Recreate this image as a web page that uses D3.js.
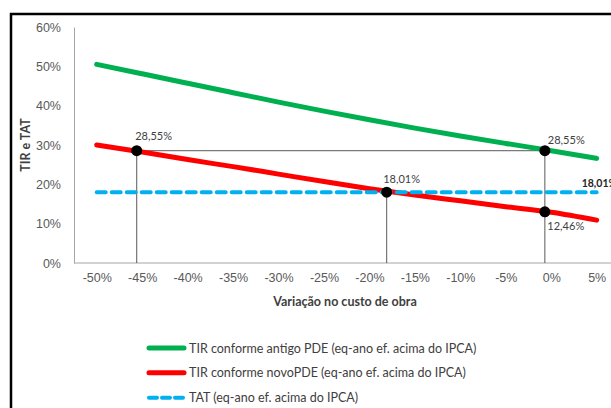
<!DOCTYPE html>
<html>
<head>
<meta charset="utf-8">
<script src="https://cdn.jsdelivr.net/npm/d3@7"></script>
<style>
  body { margin: 0; background: #fff; overflow: hidden; }
  svg { display: block; font-family: Lato, "Open Sans", sans-serif; }
</style>
</head>
<body>
<div id="chart"></div>
<script>
// categories on the x axis (variação no custo de obra, %)
var categories = [-50, -45, -40, -35, -30, -25, -20, -15, -10, -5, 0, 5];
// TIR conforme antigo PDE (%)
var tirAntigo = [50.5, 48.1, 45.7, 43.3, 40.9, 38.6, 36.4, 34.3, 32.3, 30.4, 28.55, 26.6];
// TIR conforme novo PDE (%)
var tirNovo = [30.0, 28.2, 26.3, 24.5, 22.6, 20.7, 18.9, 17.3, 15.8, 14.3, 12.9, 10.9];
// TAT (%)
var tat = [18.01, 18.01, 18.01, 18.01, 18.01, 18.01, 18.01, 18.01, 18.01, 18.01, 18.01, 18.01];
// marked points
var markX = [-45.6, -18.1, -0.7, -0.7];
var markY = [28.55, 18.01, 28.55, 13.0];
var markLabels = ['28,55%', '18,01%', '28,55%', '12,46%'];
var yTicks = [0, 10, 20, 30, 40, 50, 60];

var legendNames = [
  'TIR conforme antigo PDE (eq-ano ef. acima do IPCA)',
  'TIR conforme novoPDE (eq-ano ef. acima do IPCA)',
  'TAT  (eq-ano ef. acima do IPCA)'
];
var colors = ['#00b050', '#ff0000', '#00b0f0'];

var width = 611, height = 408;

var svg = d3.select('#chart').append('svg')
    .attr('width', width)
    .attr('height', height);

// outer frame: only top and left edges fall inside the picture
svg.append('path')
    .attr('d', 'M11,420V14H620')
    .attr('fill', 'none')
    .attr('stroke', '#000')
    .attr('stroke-width', 2.5);

var x = d3.scalePoint()
    .domain(categories)
    .range([74, 619.4])
    .padding(0.5);

// continuous version of the same axis, for the marked points
var xLin = d3.scaleLinear()
    .domain([categories[0], categories[categories.length - 1]])
    .range([x(categories[0]), x(categories[categories.length - 1])]);

var y = d3.scaleLinear()
    .domain([0, 60])
    .range([263, 27]);

// axes
var yAxis = svg.append('g')
    .attr('transform', 'translate(74,0)')
    .call(d3.axisLeft(y).tickValues(yTicks).tickSize(0).tickPadding(13)
        .tickFormat(function(d) { return d + '%'; }));
yAxis.select('.domain').attr('stroke', '#a6a6a6');
yAxis.selectAll('text').attr('fill', '#595959').style('font-size', '12.5px');

var xAxis = svg.append('g')
    .attr('transform', 'translate(0,263)')
    .call(d3.axisBottom(x).tickSize(0).tickPadding(10)
        .tickFormat(function(d) { return d + '%'; }));
xAxis.select('.domain').attr('stroke', '#a6a6a6').attr('d', 'M74,0H611');
xAxis.selectAll('text').attr('fill', '#595959').style('font-size', '12.5px');

// axis titles
svg.append('text')
    .attr('x', 345).attr('y', 306)
    .attr('text-anchor', 'middle')
    .attr('font-weight', 'bold')
    .attr('fill', '#404040')
    .style('font-size', '12.5px')
    .text('Variação no custo de obra');

svg.append('text')
    .attr('transform', 'translate(30,145) rotate(-90)')
    .attr('text-anchor', 'middle')
    .attr('font-weight', 'bold')
    .attr('fill', '#404040')
    .style('font-size', '12.5px')
    .text('TIR e TAT');

// guide lines
var guide = svg.append('g').attr('stroke', '#595959').attr('stroke-width', 1);
guide.append('line')
    .attr('x1', xLin(markX[0])).attr('x2', xLin(markX[2]))
    .attr('y1', y(markY[0])).attr('y2', y(markY[0]));
[0, 1, 2].forEach(function(i) {
  guide.append('line')
      .attr('x1', xLin(markX[i])).attr('x2', xLin(markX[i]))
      .attr('y1', y(markY[i])).attr('y2', y(0));
});

// series lines
var line = d3.line()
    .x(function(d, i) { return x(categories[i]); })
    .y(function(d) { return y(d); })
    .curve(d3.curveMonotoneX);

var series = [tirAntigo, tirNovo, tat];
series.forEach(function(s, k) {
  svg.append('path')
      .datum(s)
      .attr('d', line)
      .attr('fill', 'none')
      .attr('stroke', colors[k])
      .attr('stroke-width', k == 2 ? 4 : 5)
      .attr('stroke-linecap', 'round')
      .attr('stroke-dasharray', k == 2 ? '9 6' : null);
});

// marked points
svg.selectAll('circle.mark')
    .data(markX)
    .enter().append('circle')
      .attr('class', 'mark')
      .attr('cx', function(d) { return xLin(d); })
      .attr('cy', function(d, i) { return y(markY[i]); })
      .attr('r', 5.5)
      .attr('fill', '#000');

var labelOffsets = [[-1.5, -10.5], [-3.5, -9.5], [3, -7], [2.5, 18.5]];
svg.selectAll('text.mark')
    .data(markLabels)
    .enter().append('text')
      .attr('class', 'mark')
      .attr('x', function(d, i) { return xLin(markX[i]) + labelOffsets[i][0]; })
      .attr('y', function(d, i) { return y(markY[i]) + labelOffsets[i][1]; })
      .attr('fill', '#404040')
      .style('font-size', '11px')
      .text(function(d) { return d; });

// label at the end of the TAT line
svg.append('text')
    .attr('x', x(categories[categories.length - 1]) - 15)
    .attr('y', y(tat[tat.length - 1]) - 5.5)
    .attr('fill', '#262626')
    .attr('font-weight', 'bold')
    .style('font-size', '10.5px')
    .text('18,01%');

// legend
var legend = svg.append('g');
var legendY = [348, 372.7, 397.7];
legendNames.forEach(function(name, k) {
  legend.append('line')
      .attr('x1', 149).attr('x2', 184)
      .attr('y1', legendY[k]).attr('y2', legendY[k])
      .attr('stroke', colors[k])
      .attr('stroke-width', k == 2 ? 4 : 5)
      .attr('stroke-linecap', 'round')
      .attr('stroke-dasharray', k == 2 ? '8 5' : null);
  legend.append('text')
      .attr('x', 189).attr('y', legendY[k] + 4.5)
      .attr('fill', '#404040')
      .style('font-size', '12.5px')
      .text(name);
});
</script>
</body>
</html>
